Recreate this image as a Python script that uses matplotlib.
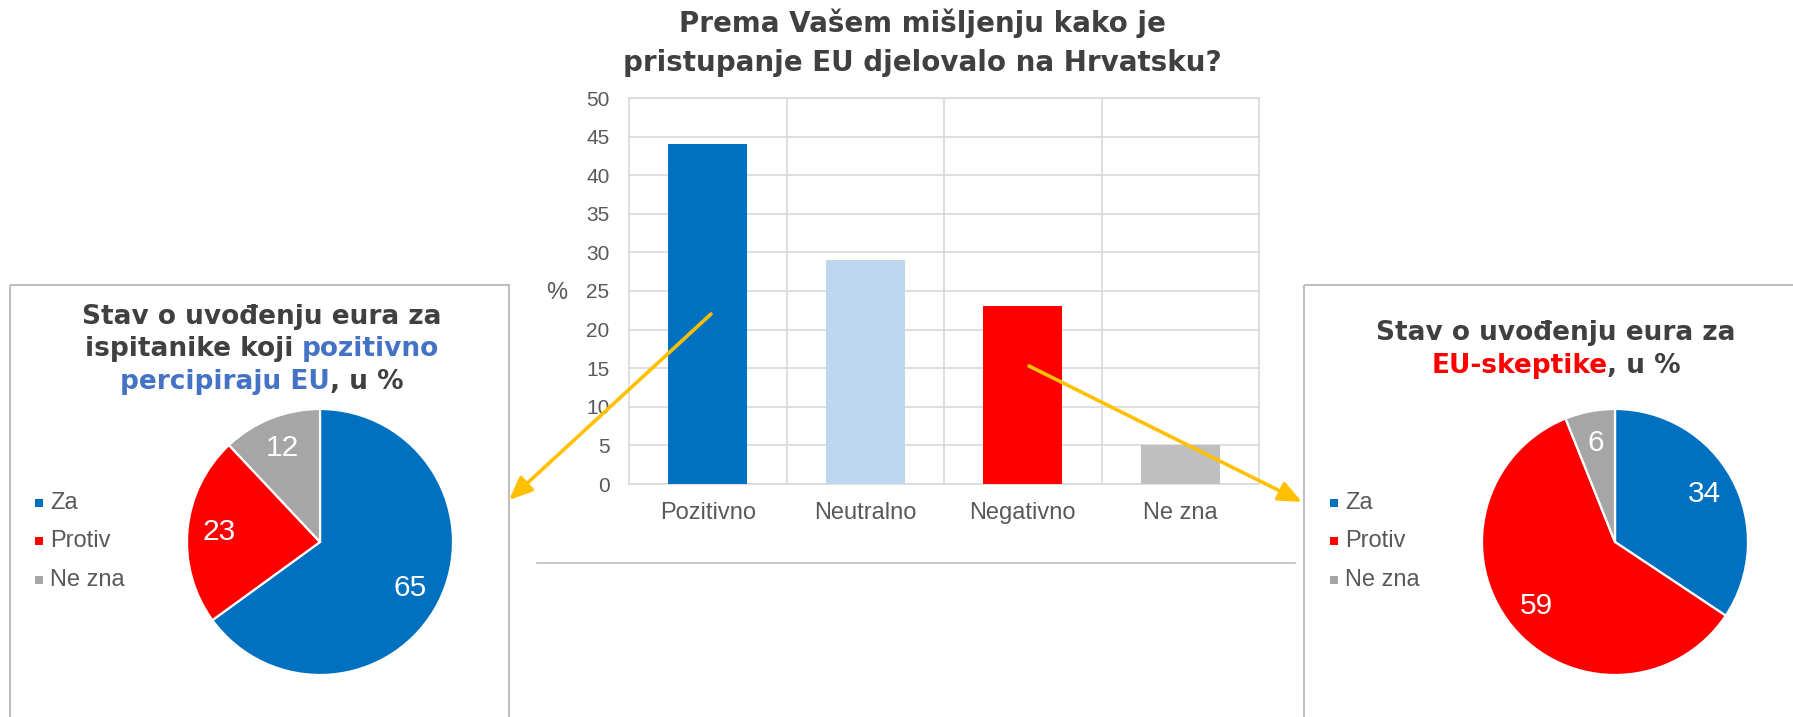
import numpy as np
import matplotlib
matplotlib.use('Agg')
import matplotlib.pyplot as plt
from matplotlib.patches import Rectangle

# Data
bar_cats = ['Pozitivno', 'Neutralno', 'Negativno', 'Ne zna']
bar_vals = [44, 29, 23, 5]
bar_colors = ['#0070C0', '#BDD7EE', '#FF0000', '#BFBFBF']

pie_labels = ['Za', 'Protiv', 'Ne zna']
pie_colors = ['#0070C0', '#FF0000', '#A6A6A6']
pos_vals = [65, 23, 12]      # ispitanici koji pozitivno percipiraju EU
skep_vals = [34, 59, 6]      # EU-skeptici

W, H = 1793, 717
fig = plt.figure(figsize=(W / 100, H / 100), dpi=100)
fig.patch.set_facecolor('white')

def px_axes(x0, y0, x1, y1, **kw):
    # pixel box (top-left origin) -> figure fraction axes
    return fig.add_axes([x0 / W, 1 - y1 / H, (x1 - x0) / W, (y1 - y0) / H], **kw)

grid_c = '#D9D9D9'
txt_c = '#595959'
dark = '#404040'

# bar chart
ax = px_axes(629, 98, 1259, 484)
x = np.arange(len(bar_cats))
ax.bar(x, bar_vals, width=0.5, color=bar_colors, zorder=3)
ax.set_xlim(-0.5, 3.5)
ax.set_ylim(0, 50)
ax.set_yticks(np.arange(0, 51, 5))
ax.set_xticks(x)
ax.set_xticklabels(bar_cats)
ax.set_xticks([0.5, 1.5, 2.5], minor=True)
ax.grid(True, which='major', axis='y', color=grid_c, lw=1.2, zorder=0)
ax.grid(True, which='minor', axis='x', color=grid_c, lw=1.2, zorder=0)
ax.tick_params(axis='both', which='both', length=0)
ax.tick_params(axis='y', pad=14, labelsize=15, labelcolor=txt_c)
ax.tick_params(axis='x', pad=13, labelsize=17, labelcolor=txt_c)
for lab in ax.get_xticklabels() + ax.get_yticklabels():
    lab.set_family('Liberation Sans')
for s in ax.spines.values():
    s.set_color(grid_c)
    s.set_linewidth(1.2)


def label_fmt(vals):
    tot = sum(vals)
    return lambda p: '%d' % round(p * tot / 100)


def draw_pie(cx, cy, r, vals):
    s = r * 2.5
    pa = px_axes(cx - s / 2, cy - s / 2, cx + s / 2, cy + s / 2)
    pa.pie(vals, colors=pie_colors, startangle=90, counterclock=False,
           autopct=label_fmt(vals), pctdistance=0.76,
           wedgeprops=dict(edgecolor='white', linewidth=1.6),
           textprops=dict(color='white', fontsize=21.5, family='Liberation Sans'))
    pa.set_xlim(-1.25, 1.25)
    pa.set_ylim(-1.25, 1.25)
    pa.set_aspect('equal')


draw_pie(320, 542, 133, pos_vals)
draw_pie(1615, 542, 133, skep_vals)

# overlay in pixel coordinates
ov = fig.add_axes([0, 0, 1, 1], zorder=10)
ov.set_xlim(0, W)
ov.set_ylim(H, 0)
ov.axis('off')

# frames and separator
ov.add_patch(Rectangle((10, 285), 499, 460, fill=False, ec='#BFBFBF', lw=1.5))
ov.add_patch(Rectangle((1304, 285), 520, 460, fill=False, ec='#BFBFBF', lw=1.5))
ov.plot([537, 1295], [563, 563], color='#BFBFBF', lw=1.2)

# arrows
arw = dict(arrowstyle='-|>,head_length=0.7,head_width=0.3', color='#FFC000',
           lw=2.6, mutation_scale=20, shrinkA=0, shrinkB=0)
ov.annotate('', xy=(509, 500), xytext=(711, 314), arrowprops=arw)
ov.annotate('', xy=(1302, 502), xytext=(1029, 366), arrowprops=arw)

# main title
tkw = dict(fontsize=20, fontweight='bold', color=dark, family='DejaVu Sans',
           ha='center', va='center')
ov.text(922, 23, 'Prema Vašem mišljenju kako je', **tkw)
ov.text(922, 63, 'pristupanje EU djelovalo na Hrvatsku?', **tkw)
ov.text(557, 293, '%', fontsize=17, color=txt_c, family='Liberation Sans',
        ha='center', va='center')

# mixed colour titles
renderer = fig.canvas.get_renderer()
pkw = dict(fontsize=19, fontweight='bold', family='DejaVu Sans', va='center', ha='left')


def text_w(s):
    t = ov.text(0, 0, s + '|', **pkw)
    w = t.get_window_extent(renderer).width
    t.remove()
    t = ov.text(0, 0, '|', **pkw)
    w -= t.get_window_extent(renderer).width
    t.remove()
    return w


def rich_line(cx, y, parts):
    full = ''.join(p for p, _ in parts)
    x0 = cx - text_w(full) / 2
    done = ''
    for p, c in parts:
        ov.text(x0 + (text_w(done) if done else 0), y, p, color=c, **pkw)
        done += p


blue_t = '#4472C4'
red_t = '#FF0000'
rich_line(262, 317, [('Stav o uvođenju eura za', dark)])
rich_line(262, 349, [('ispitanike koji ', dark), ('pozitivno', blue_t)])
rich_line(262, 382, [('percipiraju EU', blue_t), (', u %', dark)])
rich_line(1556, 333, [('Stav o uvođenju eura za', dark)])
rich_line(1556, 366, [('EU-skeptike', red_t), (', u %', dark)])

# legends
for lx in (39, 1334):
    for i, (lab, col) in enumerate(zip(pie_labels, pie_colors)):
        yy = [503, 541, 580][i]
        ov.add_patch(Rectangle((lx - 4, yy - 4), 8, 8, color=col, lw=0))
        ov.text(lx + 11, yy, lab, fontsize=17, color=txt_c, family='Liberation Sans',
                ha='left', va='center')

fig.savefig('out.png', dpi=100, facecolor='white')
